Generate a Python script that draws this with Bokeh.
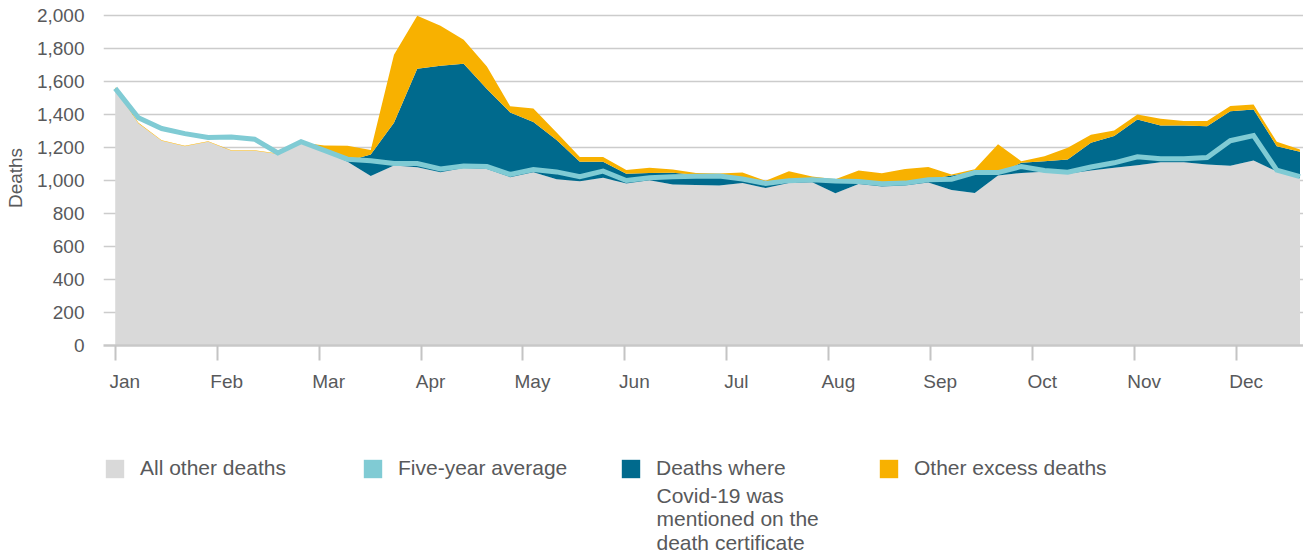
from bokeh.plotting import figure
from bokeh.layouts import column
from bokeh.models import (FixedTicker, NumeralTickFormatter, CustomJSTickFormatter,
                          Legend, LegendItem, ColumnDataSource, Range1d, Label)
from bokeh.embed import file_html
from bokeh.resources import INLINE

# ---------------- data ----------------
months = ["Jan", "Feb", "Mar", "Apr", "May", "Jun", "Jul", "Aug", "Sep", "Oct", "Nov", "Dec"]
weeks = list(range(52))
all_other_deaths = [1555, 1345, 1240, 1207, 1235, 1180, 1180, 1160, 1228, 1175,
                    1113, 1027, 1090, 1080, 1050, 1075, 1070, 1020, 1050, 1008,
                    996, 1016, 982, 1002, 976, 972, 970, 984, 954, 984,
                    990, 923, 978, 964, 970, 988, 943, 924, 1030, 1046,
                    1053, 1040, 1061, 1077, 1093, 1111, 1111, 1097, 1089, 1121,
                    1055, 1014]
covid_deaths = [0, 0, 0, 0, 0, 0, 0, 0, 0, 0,
                5, 130, 260, 597, 645, 633, 485, 392, 304, 237,
                117, 97, 58, 43, 71, 62, 60, 26, 31, 16,
                14, 77, 22, 21, 20, 20, 87, 129, 10, 61,
                64, 87, 167, 192, 277, 222, 222, 232, 331, 309,
                153, 160]
other_excess_deaths = [10, 5, 3, 3, 3, 3, 3, 3, 2, 37,
                       92, 28, 412, 321, 242, 145, 135, 38, 82, 45,
                       29, 29, 24, 32, 20, 11, 12, 38, 13, 56,
                       20, 8, 61, 59, 79, 73, 6, 15, 180, 10,
                       30, 71, 49, 34, 30, 41, 27, 31, 31, 31,
                       26, 14]
five_year_average = [1558, 1380, 1315, 1284, 1260, 1263, 1250, 1167, 1235, 1182,
                     1129, 1120, 1103, 1103, 1070, 1088, 1084, 1037, 1066, 1052,
                     1023, 1057, 1000, 1016, 1023, 1025, 1027, 1009, 982, 999,
                     1004, 997, 994, 980, 984, 1004, 1008, 1048, 1048, 1085,
                     1061, 1050, 1082, 1107, 1143, 1131, 1131, 1139, 1241, 1272,
                     1063, 1023]
y_ticks = list(range(0, 2001, 200))
legend_labels = ["All other deaths", "Five-year average",
                 "Deaths where\nCovid-19 was\nmentioned on the\ndeath certificate",
                 "Other excess deaths"]

# ---------------- style ----------------
GRAY = "#d9d9d9"
BLUE = "#006a8d"
ORANGE = "#f8b100"
LBLUE = "#80cbd4"
TEXT = "#58595b"
GRID = "#cccccc"
FONT = "Liberation Sans"
series_colors = [GRAY, LBLUE, BLUE, ORANGE]

MONTH_STEP = 4.388      # weeks between month ticks on the axis
LABEL_SHIFT = 0.41      # labels sit slightly right of the tick marks
month_ticks = [i * MONTH_STEP for i in range(len(months))]
label_ticks = [t + LABEL_SHIFT for t in month_ticks]

src = ColumnDataSource(dict(week=weeks, other=all_other_deaths, covid=covid_deaths,
                            excess=other_excess_deaths, avg=five_year_average))

p = figure(width=1303, height=420, output_backend="svg", toolbar_location=None,
           title=None, x_range=Range1d(-0.504, 51.15), y_range=Range1d(0, 2030),
           min_border_left=103, min_border_right=0, min_border_top=10, min_border_bottom=75)
p.outline_line_color = None
p.background_fill_color = "white"
p.border_fill_color = "white"

areas = p.varea_stack(stackers=["other", "covid", "excess"], x="week", source=src,
                      fill_color=[GRAY, BLUE, ORANGE])
p.line("week", "avg", source=src, line_color=LBLUE, line_width=5, line_join="miter")

# y axis
p.yaxis.ticker = FixedTicker(ticks=y_ticks)
p.yaxis.formatter = NumeralTickFormatter(format="0,0")
p.yaxis.axis_line_color = None
p.yaxis.major_tick_out = 0
p.yaxis.major_tick_in = 0
p.yaxis.minor_tick_out = 0
p.yaxis.minor_tick_in = 0
p.yaxis.major_tick_line_color = None
p.yaxis.minor_tick_line_color = None
p.yaxis.major_label_standoff = 19
p.yaxis.major_label_text_font = FONT
p.yaxis.major_label_text_font_size = "19px"
p.yaxis.major_label_text_color = TEXT
p.yaxis.axis_label = "Deaths"
p.yaxis.axis_label_text_font = FONT
p.yaxis.axis_label_text_font_size = "19px"
p.yaxis.axis_label_text_font_style = "normal"
p.yaxis.axis_label_text_color = TEXT
p.yaxis.axis_label_standoff = 8
p.ygrid.ticker = FixedTicker(ticks=y_ticks)
p.ygrid.grid_line_color = GRID
p.ygrid.grid_line_width = 1.5

# x axis: tick marks at months (minor), labels slightly shifted (major)
p.xaxis.ticker = FixedTicker(ticks=label_ticks, minor_ticks=month_ticks)
p.xaxis.formatter = CustomJSTickFormatter(
    args=dict(labels=months, pos=label_ticks),
    code="const i = pos.findIndex(t => Math.abs(t - tick) < 1e-6); return i >= 0 ? labels[i] : '';")
p.xaxis.major_tick_out = 0
p.xaxis.major_tick_in = 0
p.xaxis.major_tick_line_color = None
p.xaxis.minor_tick_out = 15
p.xaxis.minor_tick_in = 0
p.xaxis.minor_tick_line_color = "#c4c4c4"
p.xaxis.minor_tick_line_width = 2
p.xaxis.axis_line_color = "#c8c8c8"
p.xaxis.axis_line_width = 2.5
p.xaxis.major_label_standoff = 10
p.xaxis.major_label_text_font = FONT
p.xaxis.major_label_text_font_size = "19px"
p.xaxis.major_label_text_color = TEXT
p.xgrid.visible = False

# ---------------- legend strip ----------------
GLYPH = 23
STANDOFF = 14
LABEL_W = 221
ITEM_W = GLYPH + STANDOFF + LABEL_W
STRIP_FRAME_W, STRIP_FRAME_H = 1200, 97

p2 = figure(width=1303, height=133, output_backend="svg", toolbar_location=None,
            title=None, x_range=Range1d(0, STRIP_FRAME_W), y_range=Range1d(-STRIP_FRAME_H, 0),
            x_axis_location=None, y_axis_location=None,
            min_border_left=103, min_border_right=0, min_border_top=36, min_border_bottom=0)
p2.outline_line_color = None
p2.grid.visible = False
# key swatches: renderers kept outside the visible range, only their legend glyphs show
keys = [p2.varea(x=[5000, 5001], y1=[5000, 5000], y2=[5001, 5001], fill_color=c)
        for c in series_colors]

first_lines = [lab.split("\n")[0] for lab in legend_labels]
legend = Legend(
    items=[LegendItem(label=lab, renderers=[r]) for lab, r in zip(first_lines, keys)],
    orientation="horizontal", location="top_left", margin=0, padding=0, spacing=0,
    glyph_width=GLYPH, glyph_height=GLYPH, label_standoff=STANDOFF, label_width=LABEL_W,
    label_text_font=FONT, label_text_font_size="21px", label_text_color=TEXT,
    border_line_color=None, background_fill_alpha=0)
p2.add_layout(legend, "center")

# continuation lines of the wrapped legend entry
wrapped = legend_labels[2].split("\n")
cont = Label(x=2 * ITEM_W + GLYPH + STANDOFF, y=-27, text="\n".join(wrapped[1:]),
             text_font=FONT, text_font_size="21px", text_color=TEXT,
             text_baseline="top", text_align="left", text_line_height=1.03)
p2.add_layout(cont)

layout = column(p, p2, spacing=0)
open("out.html", "w").write(file_html(layout, INLINE))
